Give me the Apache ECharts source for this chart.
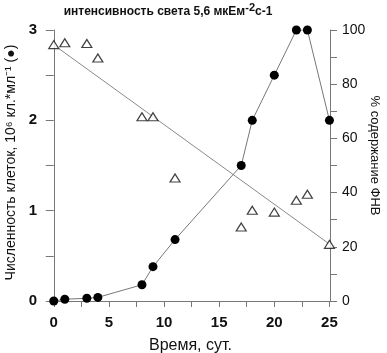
<!DOCTYPE html>
<html>
<head>
<meta charset="utf-8">
<script src="https://cdn.jsdelivr.net/npm/echarts@6/dist/echarts.min.js"></script>
<style>
  html, body { margin: 0; padding: 0; background: #fff; }
  #chart { width: 387px; height: 353px; }
</style>
</head>
<body>
<div id="chart"></div>
<script>
// days of sampling
const days = [0, 1, 3, 4, 8, 9, 11, 17, 18, 20, 22, 23, 25];
// cell count, 10^6 cells/ml (black circles)
const cellCount = [0, 0.02, 0.03, 0.04, 0.18, 0.38, 0.68, 1.5, 2.0, 2.5, 3.0, 3.0, 2.0];
// % PHB content (open triangles)
const phbContent = [94.6, 95.3, 95, 89.7, 68, 68, 45.4, 27.3, 33.5, 32.8, 37.2, 39.4, 20.9];
// linear trend for PHB
const trendDays = [0, 25];
const trendValues = [94.5, 21];

const xTicks = [0, 2.5, 5, 7.5, 10, 12.5, 15, 17.5, 20, 22.5, 25];
const xLabels = [0, 5, 10, 15, 20, 25];

const font = "Liberation Sans";
const axisColor = "#777";

const chart = echarts.init(document.getElementById("chart"));

const option = {
  animation: false,
  backgroundColor: "#fff",
  title: {
    text: "{b|интенсивность света 5,6 мкЕм}{s|-2}{b|с-1}",
    left: 163,
    top: -3,
    textAlign: "center",
    textStyle: {
      rich: {
        b: { fontFamily: font, fontWeight: "bold", fontSize: 12, color: "#111", verticalAlign: "bottom", lineHeight: 16 },
        s: { fontFamily: font, fontWeight: "bold", fontSize: 11, color: "#111", verticalAlign: "top", lineHeight: 16, padding: [0, 0, 4, 0] },
      },
    },
  },
  grid: { left: 51, right: 57, top: 30, bottom: 52, outerBoundsMode: "none" },
  xAxis: {
    type: "value",
    min: -0.25,
    max: 25.05,
    name: "Время, сут.",
    nameLocation: "middle",
    nameGap: 37,
    nameTextStyle: { fontFamily: font, fontSize: 16, color: "#111" },
    axisLine: { onZero: false, lineStyle: { color: axisColor, width: 1 } },
    axisTick: { customValues: xTicks, length: 6, lineStyle: { color: axisColor } },
    axisLabel: {
      customValues: xLabels,
      margin: 14,
      fontFamily: font,
      fontSize: 15,
      fontWeight: "bold",
      color: "#111",
    },
    splitLine: { show: false },
  },
  yAxis: [
    {
      type: "value",
      min: 0,
      max: 3,
      interval: 0.5,
      name: "Численность клеток, 10⁶ кл.*мл⁻¹ (●)",
      nameLocation: "middle",
      nameGap: 33,
      nameMoveOverlap: false,
      nameTextStyle: { fontFamily: font, fontSize: 14, color: "#111", padding: [0, 0, 0, 6] },
      axisLine: { show: true, lineStyle: { color: axisColor } },
      axisTick: { length: 8, lineStyle: { color: axisColor } },
      axisLabel: {
        margin: 14,
        fontFamily: font,
        fontSize: 15,
        fontWeight: "bold",
        color: "#111",
        formatter: (v) => (Number.isInteger(v) ? String(v) : ""),
      },
      splitLine: { show: false },
    },
    {
      type: "value",
      min: 0,
      max: 100,
      interval: 10,
      position: "right",
      name: "% содержание ФНВ",
      nameLocation: "middle",
      nameGap: 38,
      nameRotate: -90,
      nameMoveOverlap: false,
      nameTextStyle: { fontFamily: font, fontSize: 13, color: "#111", padding: [0, 20, 0, 0] },
      axisLine: { show: true, lineStyle: { color: axisColor } },
      axisTick: { length: 7, lineStyle: { color: axisColor } },
      axisLabel: {
        margin: 12,
        fontFamily: font,
        fontSize: 14,
        color: "#111",
        formatter: (v) => (v % 20 === 0 ? String(v) : ""),
      },
      splitLine: { show: false },
    },
  ],
  series: [
    {
      type: "line",
      yAxisIndex: 1,
      data: trendDays.map((d, i) => [d, trendValues[i]]),
      showSymbol: false,
      lineStyle: { color: "#8a8a8a", width: 1 },
      z: 1,
    },
    {
      type: "line",
      yAxisIndex: 0,
      data: days.map((d, i) => [d, cellCount[i]]),
      symbol: "circle",
      symbolSize: 9,
      itemStyle: { color: "#000" },
      lineStyle: { color: "#777", width: 1 },
      z: 3,
    },
    {
      type: "scatter",
      yAxisIndex: 1,
      data: days.map((d, i) => [d, phbContent[i]]),
      symbol: "triangle",
      symbolSize: [10, 8],
      itemStyle: { color: "#fff", borderColor: "#111", borderWidth: 1.2 },
      z: 4,
    },
  ],
};

chart.setOption(option);
</script>
</body>
</html>
